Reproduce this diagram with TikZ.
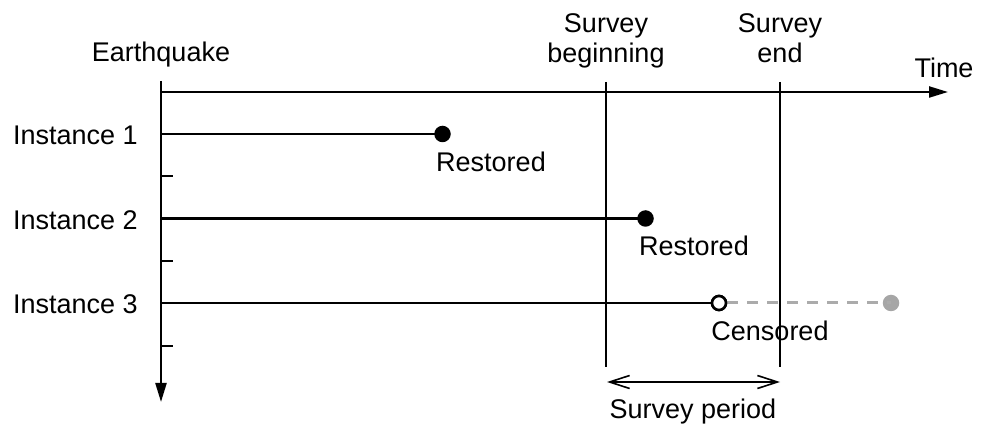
\documentclass[tikz,border=0pt]{standalone}
\usepackage{fontspec}
\setmainfont{Liberation Sans}
\usetikzlibrary{arrows.meta}
\begin{document}
\begin{tikzpicture}[x=1pt,y=-1pt,
  lbl/.style={font=\fontsize{27}{31}\selectfont, inner sep=0pt, anchor=base},
  axisline/.style={line width=2.2pt, -{Triangle[length=19pt,width=11pt]}},
  inst/.style={line width=2.6pt},
  survey/.style={line width=1.4pt},
  dotfill/.style={circle, fill=black, minimum size=16.5pt, inner sep=0pt},
  dotopen/.style={circle, draw=black, fill=white, line width=2.6pt, minimum size=14pt, inner sep=0pt},
  dotgray/.style={circle, fill=black!35, minimum size=16.5pt, inner sep=0pt},
  tick/.style={line width=1.5pt},
  barb/.tip={Straight Barb[length=20pt,width=13pt,line width=1.6pt]}]
\useasboundingbox (0,0) rectangle (989,430);
% axes
\coordinate (origin) at (161,92);
\coordinate (vtop) at (161,81);
\coordinate (vend) at (161,402);
\coordinate (hend) at (948,92);
\draw[axisline] (vtop) -- (vend);
\draw[axisline] (origin) -- (hend);
% ticks
\foreach \y/\n in {176/a,261/b,346/c}{
  \coordinate (t\n l) at (161,\y);
  \coordinate (t\n r) at (173,\y);
  \draw[tick] (t\n l) -- (t\n r);
}
% survey lines
\coordinate (sbt) at (606,82);
\coordinate (sbb) at (606,367);
\coordinate (set) at (780,82);
\coordinate (seb) at (780,367);
\draw[survey] (sbt) -- (sbb);
\draw[survey] (set) -- (seb);
% instances
\coordinate (i1) at (161,134);
\coordinate (i2) at (161,218.5);
\coordinate (i3) at (161,303);
\node[dotfill] (d1) at (442.5,134) {};
\node[dotfill] (d2) at (645.5,218.5) {};
\node[dotgray] (d3g) at (891,303) {};
\node[dotopen] (d3) at (719,303) {};
\draw[inst] (i1) -- (d1.center);
\draw[inst] (i2) -- (d2.center);
\draw[line width=3pt, black!33, dash pattern=on 11pt off 9pt] (d3.east) -- (d3g.center);
\draw[inst] (i3) -- (d3.west);
\node[dotopen] at (d3) {};
% survey period
\coordinate (spl) at (607,382);
\coordinate (spr) at (780,382);
\draw[line width=1.6pt, barb-barb] (spl) -- (spr);
% labels
\node[lbl] (eq) at (161,62) {Earthquake};
\node[lbl] (time) at (944,78) {Time};
\node[lbl] (sb1) at (606,33) {Survey};
\node[lbl] (sb2) at (606,63) {beginning};
\node[lbl] (se1) at (780,33) {Survey};
\node[lbl] (se2) at (780,63) {end};
\node[lbl, anchor=base west] (l1) at (13,145) {Instance 1};
\node[lbl, anchor=base west] (l2) at (13,230) {Instance 2};
\node[lbl, anchor=base west] (l3) at (13,314) {Instance 3};
\node[lbl] (r1) at (491,172) {Restored};
\node[lbl] (r2) at (694,256) {Restored};
\node[lbl] (cen) at (770,341) {Censored};
\node[lbl] (sp) at (693,419) {Survey period};
\end{tikzpicture}
\end{document}
